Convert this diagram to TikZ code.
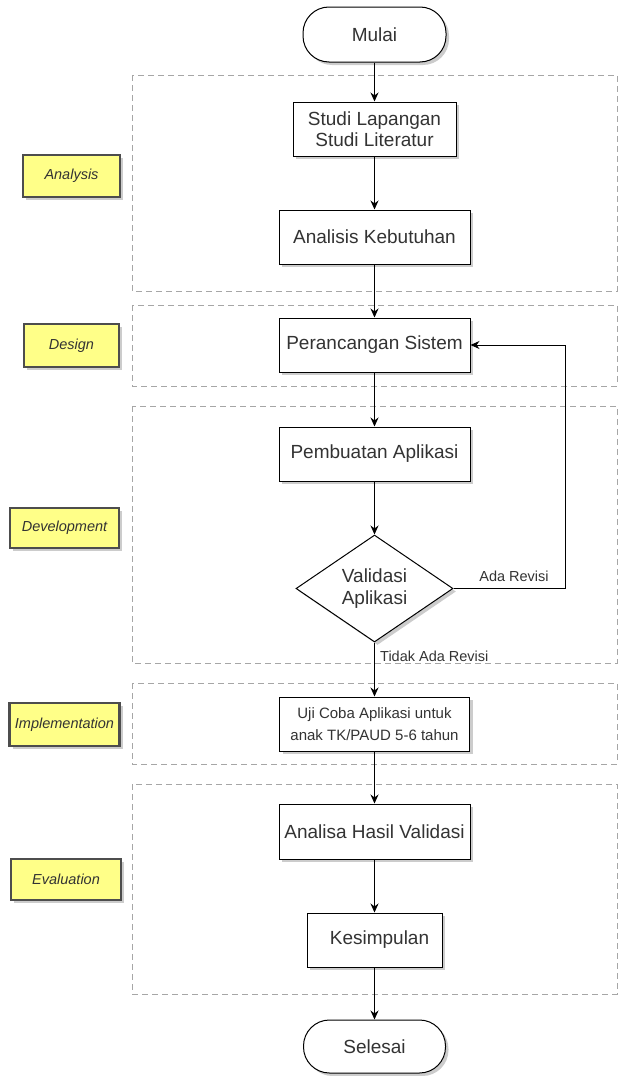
\documentclass[tikz,border=0pt]{standalone}
\usepackage{fontspec}
\setmainfont{Liberation Sans}
\usetikzlibrary{shapes.geometric,shadows,arrows.meta}
\definecolor{txt}{HTML}{333333}
\definecolor{lblfill}{HTML}{FFFF88}
\definecolor{lbldraw}{HTML}{4D4D4D}
\definecolor{dashc}{HTML}{A6A6A6}
\begin{document}
\begin{tikzpicture}[x=1pt,y=-1pt,
  shadowed/.style={drop shadow={shadow xshift=3pt,shadow yshift=-3pt,fill=black!40,opacity=0.5}},
  proc/.style={draw=black, line width=1pt, fill=white, text=txt, font=\fontsize{19}{21.5}\selectfont, align=center, inner sep=0pt, shadowed},
  term/.style={proc, rounded corners=26pt},
  dec/.style={proc, diamond},
  phase/.style={draw=lbldraw, line width=2.5pt, fill=lblfill, text=txt, font=\fontsize{14.5}{16}\selectfont\itshape, inner sep=0pt, shadowed},
  lane/.style={draw=dashc, dash pattern=on 6pt off 4pt, line width=0.9pt},
  flow/.style={draw=black, line width=1pt, -{Stealth[length=9pt,width=8pt]}},
  elabel/.style={text=txt, font=\fontsize{14.5}{16}\selectfont, inner sep=0pt}]
\useasboundingbox (0,0) rectangle (618,1076);
% swim lanes
\draw[lane] (132,75) rectangle (617,291);
\draw[lane] (132,305) rectangle (617,386);
\draw[lane] (132,406) rectangle (617,663);
\draw[lane] (132,683) rectangle (617,764);
\draw[lane] (132,784) rectangle (617,994);
% phase labels
\node[phase, minimum width=97pt, minimum height=42pt] (lanA) at (71.5,176) {Analysis};
\node[phase, minimum width=95pt, minimum height=43pt] (lanD) at (71.5,345.5) {Design};
\node[phase, minimum width=109pt, minimum height=40pt] (lanDev) at (64.5,528) {Development};
\node[phase, minimum width=110pt, minimum height=43pt] (lanI) at (64.5,724.5) {Implementation};
\node[phase, minimum width=110pt, minimum height=41pt] (lanE) at (66,879.5) {Evaluation};
% flow nodes
\node[term, minimum width=143pt, minimum height=55pt] (mulai) at (374.5,34.5) {Mulai};
\node[proc, minimum width=163pt, minimum height=54pt] (studi) at (374.5,129) {Studi Lapangan\\Studi Literatur};
\node[proc, minimum width=191pt, minimum height=54pt] (analisis) at (374.5,237) {Analisis Kebutuhan};
\node[proc, minimum width=191pt, minimum height=54pt] (peran) at (374.5,345) {Perancangan Sistem};
\node[proc, minimum width=191pt, minimum height=54pt] (pemb) at (374.5,454) {Pembuatan Aplikasi};
\node[dec, minimum width=157pt, minimum height=107pt] (valid) at (374.5,588.5) {Validasi\\Aplikasi};
\node[proc, minimum width=190pt, minimum height=54pt, font=\fontsize{15}{21.5}\selectfont] (uji) at (374.5,724) {Uji Coba Aplikasi untuk\\anak TK/PAUD 5-6 tahun};
\node[proc, minimum width=191pt, minimum height=55pt] (hasil) at (374.5,831.5) {Analisa Hasil Validasi};
\node[proc, minimum width=135pt, minimum height=54pt] (kesim) at (374.5,940) {\hspace*{10pt}Kesimpulan};
\node[term, minimum width=142pt, minimum height=53pt] (selesai) at (374.5,1046.5) {Selesai};
% connectors
\draw[flow] (mulai) -- (studi);
\draw[flow] (studi) -- (analisis);
\draw[flow] (analisis) -- (peran);
\draw[flow] (peran) -- (pemb);
\draw[flow] (pemb) -- (valid);
\draw[flow] (valid) -- (uji);
\draw[flow] (uji) -- (hasil);
\draw[flow] (hasil) -- (kesim);
\draw[flow] (kesim) -- (selesai);
\coordinate (loop) at (565,588.5);
\draw[flow] (valid.east) -- (loop) |- (peran.east);
% edge labels
\node[elabel] (lblada) at (514,576) {Ada Revisi};
\node[elabel, anchor=west] (lbltidak) at (380,656) {Tidak Ada Revisi};
\end{tikzpicture}
\end{document}
